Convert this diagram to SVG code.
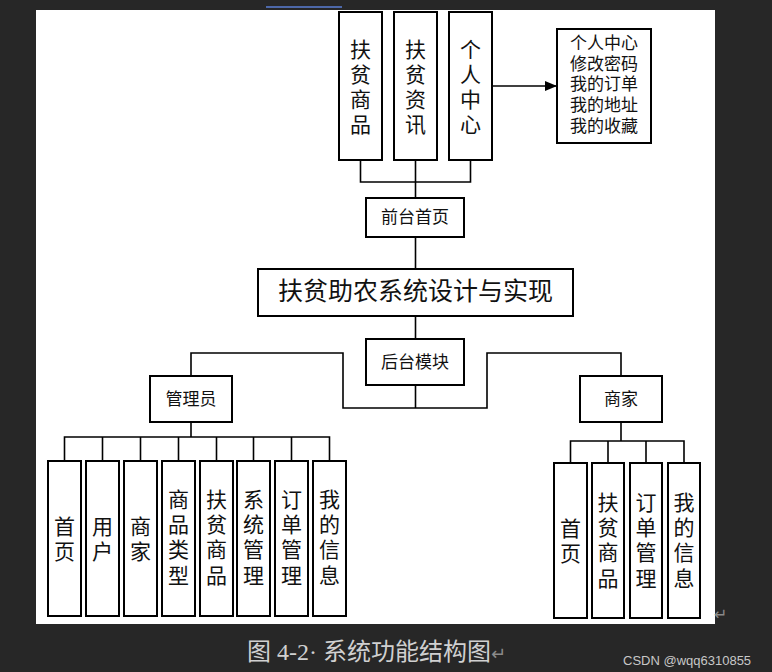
<svg xmlns="http://www.w3.org/2000/svg" width="772" height="672" viewBox="0 0 772 672">
<style>
.bg{fill:#272727}
.box{fill:#ffffff;stroke:#000000;stroke-width:2}
.ln{fill:none;stroke:#000000;stroke-width:1.6}
.t{font-family:"Liberation Sans","Noto Sans CJK SC",sans-serif;fill:#111111;text-anchor:middle;dominant-baseline:central}
.v{font-size:21px}
.h{font-size:17px}
.cap{font-family:"Liberation Serif","Noto Sans CJK SC",serif;fill:#d0d0d0;font-size:24px}
.wm{font-family:"Liberation Sans","Noto Sans",sans-serif;fill:#c8c8c8;font-size:13px}
</style>
<defs>
<marker id="arr" markerWidth="12" markerHeight="10" refX="11" refY="5" orient="auto" markerUnits="userSpaceOnUse">
<path d="M0,0 L12,5 L0,10 Z" fill="#000"/>
</marker>
</defs>
<rect class="bg" x="0" y="0" width="772" height="672"/>
<line x1="266" y1="7" x2="342" y2="7" stroke="#5b7fd6" stroke-width="1.5"/>
<rect x="36" y="10" width="679" height="614" fill="#ffffff"/>

<g id="connectors">
<line class="ln" x1="492" y1="86" x2="556" y2="86" marker-end="url(#arr)"/>
<polyline class="ln" points="360.5,160 360.5,182 470.5,182 470.5,160"/>
<line class="ln" x1="415.5" y1="160" x2="415.5" y2="198"/>
<line class="ln" x1="415.5" y1="237" x2="415.5" y2="269"/>
<line class="ln" x1="415.5" y1="316" x2="415.5" y2="339"/>
<line class="ln" x1="415.5" y1="385" x2="415.5" y2="408"/>
<polyline class="ln" points="191,376 191,353 343,353 343,408 487,408 487,353 621,353 621,376"/>
<line class="ln" x1="191" y1="422" x2="191" y2="437" stroke-width="2.5"/>
<polyline class="ln" points="64.5,461 64.5,437 329.5,437 329.5,461"/>
<line class="ln" x1="102.5" y1="437" x2="102.5" y2="461"/>
<line class="ln" x1="140.5" y1="437" x2="140.5" y2="461"/>
<line class="ln" x1="178.5" y1="437" x2="178.5" y2="461"/>
<line class="ln" x1="216.5" y1="437" x2="216.5" y2="461"/>
<line class="ln" x1="253.5" y1="437" x2="253.5" y2="461"/>
<line class="ln" x1="291.5" y1="437" x2="291.5" y2="461"/>
<line class="ln" x1="621" y1="422" x2="621" y2="441" stroke-width="2.5"/>
<polyline class="ln" points="570.5,463 570.5,441 684,441 684,463"/>
<line class="ln" x1="608" y1="441" x2="608" y2="463"/>
<line class="ln" x1="646" y1="441" x2="646" y2="463"/>
</g>

<g id="n-fpsp-top"><rect class="box" x="339" y="12" width="43" height="148"/>
<text class="t v"><tspan x="360.5" y="48.5">扶</tspan><tspan x="360.5" y="73.5">贫</tspan><tspan x="360.5" y="98.5">商</tspan><tspan x="360.5" y="123.5">品</tspan></text></g>
<g id="n-fpzx"><rect class="box" x="394" y="12" width="43" height="148"/>
<text class="t v"><tspan x="415.5" y="48.5">扶</tspan><tspan x="415.5" y="73.5">贫</tspan><tspan x="415.5" y="98.5">资</tspan><tspan x="415.5" y="123.5">讯</tspan></text></g>
<g id="n-grzx"><rect class="box" x="449" y="12" width="43" height="148"/>
<text class="t v"><tspan x="470.5" y="48.5">个</tspan><tspan x="470.5" y="73.5">人</tspan><tspan x="470.5" y="98.5">中</tspan><tspan x="470.5" y="123.5">心</tspan></text></g>
<g id="n-grzx-list"><rect class="box" x="557" y="29" width="94" height="114"/>
<text class="t h"><tspan x="604" y="43">个人中心</tspan><tspan x="604" y="63.5">修改密码</tspan><tspan x="604" y="84">我的订单</tspan><tspan x="604" y="104.5">我的地址</tspan><tspan x="604" y="126">我的收藏</tspan></text></g>

<g id="n-qtsy"><rect class="box" x="366" y="198" width="98" height="39"/>
<text class="t h" x="415" y="217">前台首页</text></g>
<g id="n-root"><rect class="box" x="258" y="269" width="315" height="47"/>
<text class="t" x="415.5" y="291" style="font-size:25px">扶贫助农系统设计与实现</text></g>
<g id="n-htmk"><rect class="box" x="366" y="339" width="98" height="46"/>
<text class="t h" x="415" y="362">后台模块</text></g>
<g id="n-gly"><rect class="box" x="150" y="376" width="82" height="46"/>
<text class="t h" x="191" y="399">管理员</text></g>
<g id="n-sj"><rect class="box" x="580" y="376" width="82" height="46"/>
<text class="t h" x="621" y="399">商家</text></g>

<g id="n-a-sy"><rect class="box" x="48" y="461" width="33" height="155"/>
<text class="t v"><tspan x="64.5" y="525.5">首</tspan><tspan x="64.5" y="550.5">页</tspan></text></g>
<g id="n-a-yh"><rect class="box" x="86" y="461" width="33" height="155"/>
<text class="t v"><tspan x="102.5" y="525.5">用</tspan><tspan x="102.5" y="550.5">户</tspan></text></g>
<g id="n-a-sj"><rect class="box" x="124" y="461" width="33" height="155"/>
<text class="t v"><tspan x="140.5" y="525.5">商</tspan><tspan x="140.5" y="550.5">家</tspan></text></g>
<g id="n-a-splx"><rect class="box" x="162" y="461" width="33" height="155"/>
<text class="t v"><tspan x="178.5" y="499">商</tspan><tspan x="178.5" y="524">品</tspan><tspan x="178.5" y="549">类</tspan><tspan x="178.5" y="575">型</tspan></text></g>
<g id="n-a-fpsp"><rect class="box" x="200" y="461" width="33" height="155"/>
<text class="t v"><tspan x="216.5" y="499">扶</tspan><tspan x="216.5" y="524">贫</tspan><tspan x="216.5" y="549">商</tspan><tspan x="216.5" y="575">品</tspan></text></g>
<g id="n-a-xtgl"><rect class="box" x="237" y="461" width="33" height="155"/>
<text class="t v"><tspan x="253.5" y="499">系</tspan><tspan x="253.5" y="524">统</tspan><tspan x="253.5" y="549">管</tspan><tspan x="253.5" y="575">理</tspan></text></g>
<g id="n-a-ddgl"><rect class="box" x="275" y="461" width="33" height="155"/>
<text class="t v"><tspan x="291.5" y="499">订</tspan><tspan x="291.5" y="524">单</tspan><tspan x="291.5" y="549">管</tspan><tspan x="291.5" y="575">理</tspan></text></g>
<g id="n-a-wdxx"><rect class="box" x="313" y="461" width="33" height="155"/>
<text class="t v"><tspan x="329.5" y="499">我</tspan><tspan x="329.5" y="524">的</tspan><tspan x="329.5" y="549">信</tspan><tspan x="329.5" y="575">息</tspan></text></g>

<g id="n-b-sy"><rect class="box" x="554" y="463" width="33" height="155"/>
<text class="t v"><tspan x="570.5" y="527.5">首</tspan><tspan x="570.5" y="552.5">页</tspan></text></g>
<g id="n-b-fpsp"><rect class="box" x="592" y="463" width="32" height="155"/>
<text class="t v"><tspan x="608" y="502">扶</tspan><tspan x="608" y="527">贫</tspan><tspan x="608" y="552">商</tspan><tspan x="608" y="578">品</tspan></text></g>
<g id="n-b-ddgl"><rect class="box" x="630" y="463" width="32" height="155"/>
<text class="t v"><tspan x="646" y="502">订</tspan><tspan x="646" y="527">单</tspan><tspan x="646" y="552">管</tspan><tspan x="646" y="578">理</tspan></text></g>
<g id="n-b-wdxx"><rect class="box" x="668" y="463" width="32" height="155"/>
<text class="t v"><tspan x="684" y="502">我</tspan><tspan x="684" y="527">的</tspan><tspan x="684" y="552">信</tspan><tspan x="684" y="578">息</tspan></text></g>

<text x="714" y="620" style="font-family:'DejaVu Sans',sans-serif;font-size:16px;fill:#8a8a8a">↵</text>
<text class="cap" x="247" y="660">图 4-2· 系统功能结构图<tspan style="fill:#8a8a8a;font-family:'DejaVu Sans',sans-serif;font-size:18px">↵</tspan></text>
<text class="wm" x="623" y="665">CSDN @wqq6310855</text>
</svg>
